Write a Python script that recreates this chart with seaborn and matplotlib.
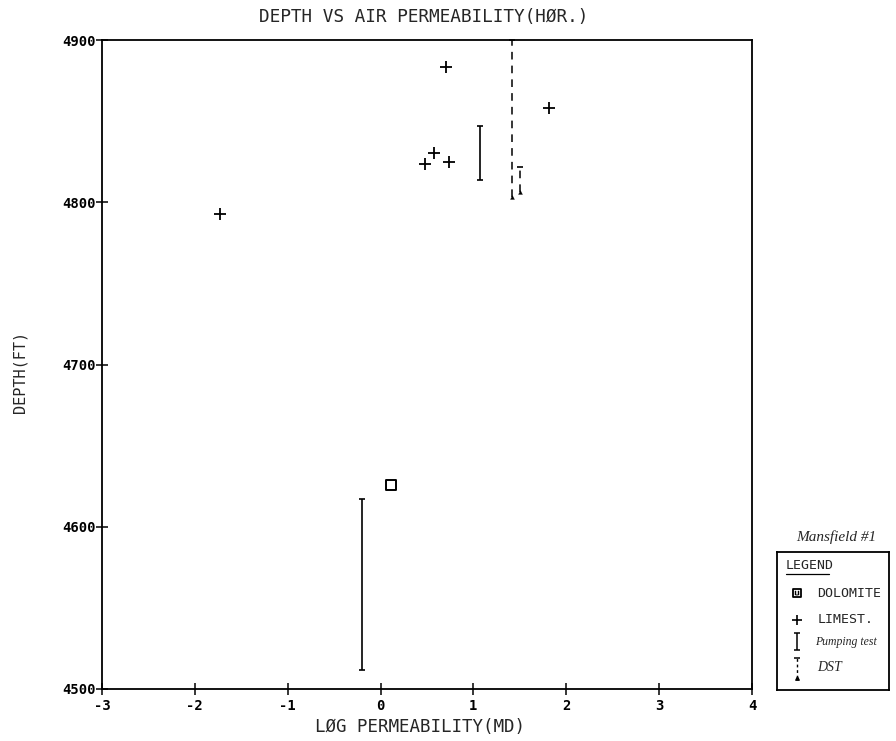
import matplotlib
matplotlib.use("Agg")
import matplotlib.pyplot as plt
import seaborn as sns
import pandas as pd
from matplotlib.ticker import MultipleLocator, FixedLocator

# ---------------- data ----------------
limestone_logk = [-1.73, 0.70, 0.575, 0.48, 0.74, 1.81]
limestone_depth = [4793, 4883.5, 4830.5, 4823.5, 4825, 4858]

dolomite_logk = [0.11]
dolomite_depth = [4626]

pump_logk = [-0.20, 1.07]
pump_top = [4617, 4847]
pump_bottom = [4512, 4814]

dst_logk = [1.41, 1.50]
dst_top = [4900, 4822]
dst_bottom = [4803, 4806.5]

x_ticks = [-3, -2, -1, 0, 1, 2, 3, 4]
y_ticks = [4500, 4600, 4700, 4800, 4900]

title = "DEPTH VS AIR PERMEABILITY(HØR.)"
xlabel = "LØG PERMEABILITY(MD)"
ylabel = "DEPTH(FT)"
legend_title = "LEGEND"
legend_labels = ["DOLOMITE", "LIMEST.", "Pumping test", "DST"]
note = "Mansfield #1"

# ---------------- style ----------------
sns.set_style("white")
plt.rcParams['font.family'] = ['DejaVu Sans Mono', 'DejaVu Sans']

W, H = 896, 741
fig = plt.figure(figsize=(W / 100, H / 100), dpi=100)

ax_l, ax_r, ax_t, ax_b = 102, 752, 40, 689
ax = fig.add_axes([ax_l / W, 1 - ax_b / H, (ax_r - ax_l) / W, (ax_b - ax_t) / H])

lime = pd.DataFrame({"logk": limestone_logk, "depth": limestone_depth})
dolo = pd.DataFrame({"logk": dolomite_logk, "depth": dolomite_depth})

sns.scatterplot(data=lime, x="logk", y="depth", marker="+", s=70,
                color="black", linewidth=1.3, ax=ax, legend=False, zorder=3)
sns.scatterplot(data=dolo, x="logk", y="depth", marker="s", s=55,
                color="white", edgecolor="black", linewidth=1.4, ax=ax,
                legend=False, zorder=3)
# small inner mark of the dolomite symbol
sns.scatterplot(data=dolo, x="logk", y="depth", marker="$\\sqcup$", s=12,
                color="black", linewidth=0.4, ax=ax, legend=False, zorder=4)

# pumping tests: solid I-bars
ax.vlines(pump_logk, pump_bottom, pump_top, colors="black", linewidth=1.2, zorder=2)
caps = pd.DataFrame({"logk": pump_logk + pump_logk, "depth": pump_top + pump_bottom})
sns.scatterplot(data=caps, x="logk", y="depth", marker="_", s=25, color="black",
                linewidth=1.2, ax=ax, legend=False, zorder=2)

# DST: dashed bars
ax.vlines(dst_logk, dst_bottom, dst_top, colors="black", linewidth=1.1,
          linestyles=(0, (5, 4)), zorder=2)
dcap = pd.DataFrame({"logk": dst_logk, "depth": dst_top})
dbot = pd.DataFrame({"logk": dst_logk, "depth": dst_bottom})
sns.scatterplot(data=dcap, x="logk", y="depth", marker="_", s=20, color="black",
                linewidth=1.2, ax=ax, legend=False, zorder=2, clip_on=False)
sns.scatterplot(data=dbot, x="logk", y="depth", marker="^", s=8, color="black",
                edgecolor="black", ax=ax, legend=False, zorder=2)

ax.set_xlim(-3, 4)
ax.set_ylim(4500, 4900)
ax.xaxis.set_major_locator(FixedLocator(x_ticks))
ax.yaxis.set_major_locator(FixedLocator(y_ticks))
ax.yaxis.set_minor_locator(MultipleLocator(50))
ax.set_xticklabels([str(v) for v in x_ticks])
ax.set_yticklabels([str(v) for v in y_ticks])
ax.tick_params(axis="both", which="both", direction="inout", length=9, width=1.1,
               color="black", labelsize=10, labelcolor="black")
ax.tick_params(axis="y", which="major", pad=0)
ax.tick_params(axis="x", which="major", pad=3)
ax.tick_params(axis="x", which="minor", length=0)
ax.tick_params(left=True, bottom=True)
for lbl in ax.get_xticklabels() + ax.get_yticklabels():
    lbl.set_fontweight("bold")
for sp in ax.spines.values():
    sp.set_visible(True)
    sp.set_color("black")
    sp.set_linewidth(1.3)
ax.set_xlabel("")
ax.set_ylabel("")
ax.grid(False)

fig.text(424 / W, 1 - 17 / H, title, ha="center", va="center", fontsize=12.8)
fig.text(420 / W, 1 - 727 / H, xlabel, ha="center", va="center", fontsize=12.6)
fig.text(20 / W, 1 - 372 / H, ylabel, ha="center", va="center", fontsize=11,
         rotation=90)

# ---------------- legend box ----------------
lg_l, lg_r, lg_t, lg_b = 777, 889, 552, 690
lax = fig.add_axes([lg_l / W, 1 - lg_b / H, (lg_r - lg_l) / W, (lg_b - lg_t) / H])
lax.set_xlim(0, 1)
lax.set_ylim(0, 1)
lax.set_xticks([])
lax.set_yticks([])
for sp in lax.spines.values():
    sp.set_visible(True)
    sp.set_color("black")
    sp.set_linewidth(1.3)

lax.text(0.08, 0.90, legend_title, fontsize=9.5, ha="left", va="center")
lax.plot([0.08, 0.46], [0.84, 0.84], color="black", linewidth=0.9)

rows_y = [0.70, 0.51, 0.35, 0.16]
mx = 0.18
lax.scatter([mx], [rows_y[0]], marker="s", s=40, facecolor="white",
            edgecolor="black", linewidth=1.3)
lax.scatter([mx], [rows_y[0]], marker="$\\sqcup$", s=9, color="black", linewidth=0.3)
lax.scatter([mx], [rows_y[1]], marker="+", s=55, color="black", linewidth=1.2)
lax.vlines([mx], rows_y[2] - 0.06, rows_y[2] + 0.06, colors="black", linewidth=1.1)
lax.scatter([mx, mx], [rows_y[2] - 0.06, rows_y[2] + 0.06], marker="_", s=18,
            color="black", linewidth=1.1)
lax.vlines([mx], rows_y[3] - 0.07, rows_y[3] + 0.07, colors="black", linewidth=1.0,
           linestyles=(0, (2, 2)))
lax.scatter([mx], [rows_y[3] + 0.07], marker="_", s=18, color="black", linewidth=1.1)
lax.scatter([mx], [rows_y[3] - 0.07], marker="^", s=6, color="black")

lax.text(0.36, rows_y[0], legend_labels[0], fontsize=9.5, ha="left", va="center")
lax.text(0.36, rows_y[1], legend_labels[1], fontsize=9.5, ha="left", va="center")
lax.text(0.34, rows_y[2], legend_labels[2], fontsize=8.5, ha="left", va="center",
         family=["Liberation Serif", "DejaVu Serif"], style="italic")
lax.text(0.36, rows_y[3], legend_labels[3], fontsize=10, ha="left", va="center",
         family=["Liberation Serif", "DejaVu Serif"], style="italic")

fig.text(836 / W, 1 - 537 / H, note, ha="center", va="center", fontsize=11,
         family=["Liberation Serif", "DejaVu Serif"], style="italic")

fig.savefig("out.png", dpi=100)
